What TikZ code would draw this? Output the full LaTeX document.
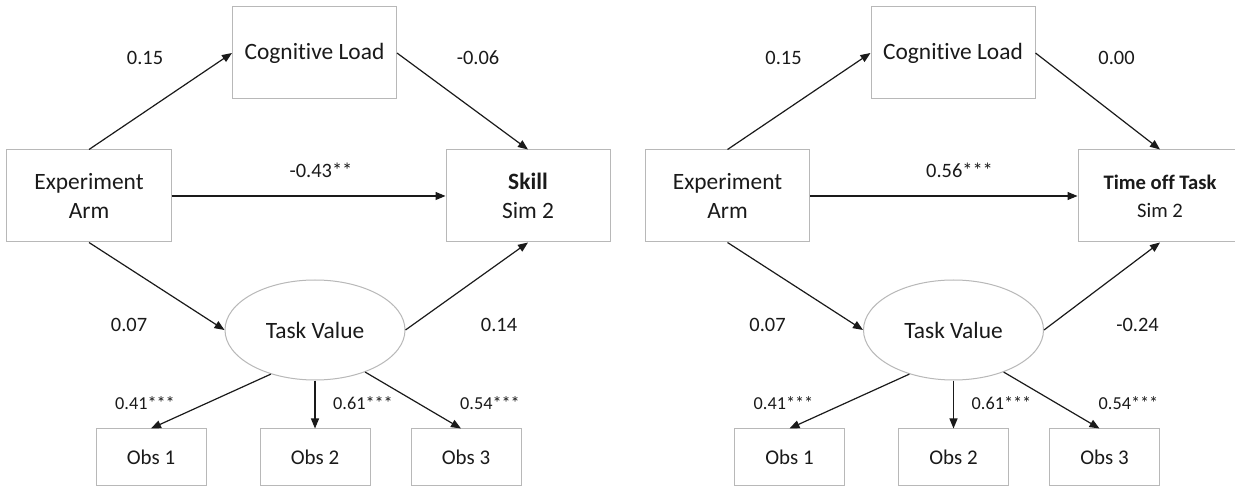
\documentclass[tikz,border=0pt]{standalone}
\usepackage{fontspec}
\setmainfont{Carlito}[Ligatures=NoCommon]
\usetikzlibrary{arrows.meta,shapes.geometric}
\definecolor{txt}{HTML}{1A1A1A}
\definecolor{boxgray}{HTML}{B8B8B8}
\begin{document}
\begin{tikzpicture}[x=1bp,y=-1bp,
  box/.style={draw=boxgray,line width=1bp,minimum width=164bp,minimum height=92bp,inner sep=0pt,align=center,text=txt,font=\fontsize{23.5}{29}\selectfont},
  obsbox/.style={draw=boxgray,line width=1bp,minimum width=110bp,minimum height=56bp,inner sep=0pt,text=txt,font=\fontsize{21}{25}\selectfont},
  latent/.style={ellipse,draw=boxgray,line width=1bp,minimum width=180bp,minimum height=100bp,inner sep=0pt,text=txt,font=\fontsize{23.5}{29}\selectfont},
  conn/.style={draw=txt,line width=1.2bp,-{Triangle[length=10bp,width=8bp]}},
  lab/.style={inner sep=0pt,text=txt,font=\fontsize{20.5}{24}\selectfont},
  slab/.style={inner sep=0pt,text=txt,font=\fontsize{18.3}{22}\selectfont}
]
\fill[white] (0,0) rectangle (1235,486);
\useasboundingbox (0,0) rectangle (1235,486);

% ---------- left panel ----------
\node[box] (Lcog) at (314.5,53) {Cognitive Load};
\node[box] (Lexp) at (89,196) {Experiment\\Arm};
\node[box] (Lout) at (528,196) {\textbf{Skill}\\Sim 2};
\node[latent] (Ltv) at (315,330) {Task Value};
\node[obsbox] (Lo1) at (151,457) {Obs 1};
\node[obsbox] (Lo2) at (315,457) {Obs 2};
\node[obsbox] (Lo3) at (466,457) {Obs 3};

\draw[conn] (Lexp.north) -- (Lcog.west);
\draw[conn] (Lcog.east) -- (Lout.north);
\draw[conn] (Lexp.east) -- (Lout.west);
\draw[conn] (Lexp.south) -- (Ltv.west);
\draw[conn] (Ltv.east) -- (Lout.south);
\draw[conn] (Ltv.225) -- (Lo1.north);
\draw[conn] (Ltv.south) -- (Lo2.north);
\draw[conn] (Ltv.320) -- ([xshift=-5bp]Lo3.north);

\node[lab] (La) at (145,58) {0.15};
\node[lab] (Lb) at (478,58) {-0.06};
\node[lab] (Lc) at (321,170) {-0.43**};
\node[lab] (Ld) at (129,325) {0.07};
\node[lab] (Le) at (499,325) {0.14};
\node[slab] (Lf) at (145,403) {0.41***};
\node[slab] (Lg) at (363,403) {0.61***};
\node[slab] (Lh) at (490,403) {0.54***};

% ---------- right panel ----------
\begin{scope}[xshift=638.5bp]
\node[box] (Rcog) at (314.5,53) {Cognitive Load};
\node[box] (Rexp) at (89,196) {Experiment\\Arm};
\node[box,font=\fontsize{20.7}{28}\selectfont] (Rout) at (521.5,196) {\textbf{Time off Task}\\Sim 2};
\node[latent] (Rtv) at (315,330) {Task Value};
\node[obsbox] (Ro1) at (151,457) {Obs 1};
\node[obsbox] (Ro2) at (315,457) {Obs 2};
\node[obsbox] (Ro3) at (466,457) {Obs 3};

\draw[conn] (Rexp.north) -- (Rcog.west);
\draw[conn] (Rcog.east) -- (Rout.north);
\draw[conn] (Rexp.east) -- (Rout.west);
\draw[conn] (Rexp.south) -- (Rtv.west);
\draw[conn] (Rtv.east) -- (Rout.south);
\draw[conn] (Rtv.225) -- (Ro1.north);
\draw[conn] (Rtv.south) -- (Ro2.north);
\draw[conn] (Rtv.320) -- ([xshift=-5bp]Ro3.north);

\node[lab] (Ra) at (145,58) {0.15};
\node[lab] (Rb) at (478,58) {0.00};
\node[lab] (Rc) at (321,170) {0.56***};
\node[lab] (Rd) at (129,325) {0.07};
\node[lab] (Re) at (499,325) {-0.24};
\node[slab] (Rf) at (145,403) {0.41***};
\node[slab] (Rg) at (363,403) {0.61***};
\node[slab] (Rh) at (490,403) {0.54***};
\end{scope}
\end{tikzpicture}
\end{document}
